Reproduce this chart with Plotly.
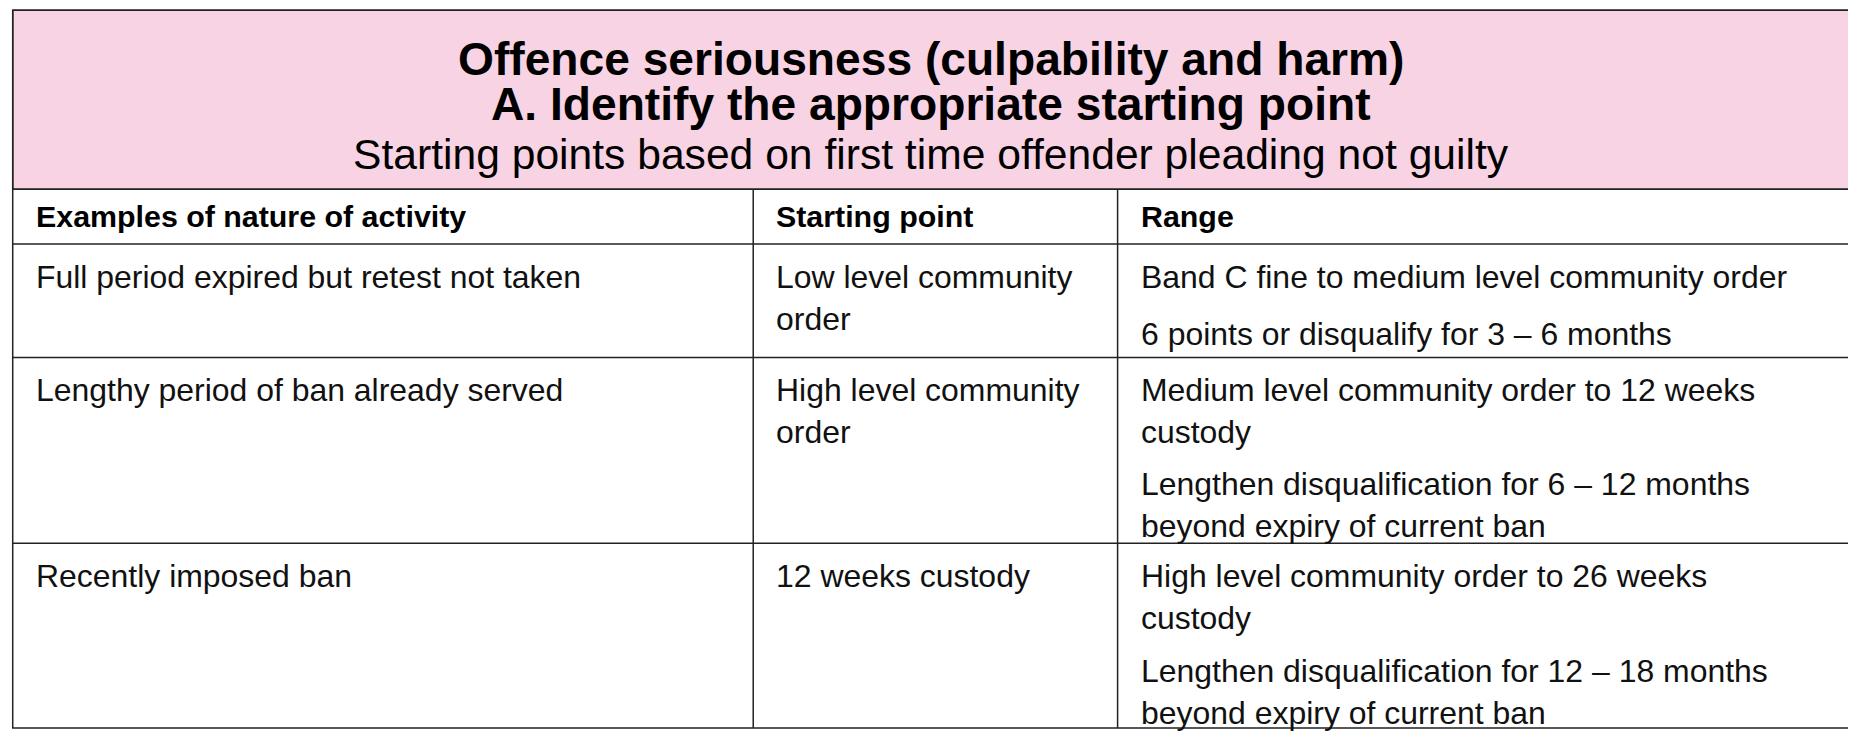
import plotly.graph_objects as go

# table content
title_lines = ["Offence seriousness (culpability and harm)", "A. Identify the appropriate starting point"]
subtitle = "Starting points based on first time offender pleading not guilty"
col_headers = ["Examples of nature of activity", "Starting point", "Range"]
activities = [
    "Full period expired but retest not taken",
    "Lengthy period of ban already served",
    "Recently imposed ban",
]
starting_points = [
    "Low level community<br>order",
    "High level community<br>order",
    "12 weeks custody",
]
range_first = [
    "Band C fine to medium level community order",
    "Medium level community order to 12 weeks<br>custody",
    "High level community order to 26 weeks<br>custody",
]
range_second = [
    "6 points or disqualify for 3 – 6 months",
    "Lengthen disqualification for 6 – 12 months<br>beyond expiry of current ban",
    "Lengthen disqualification for 12 – 18 months<br>beyond expiry of current ban",
]

# geometry (in reference pixel units)
W, H = 1568, 622
COL_X = [4, 632, 941, 1562]
ROW_Y = [2, 155, 202, 299, 458, 616]
SECOND_PARA_Y = [262, 390, 550]
S = 1856 / W
FONT = "Liberation Sans, Arial, sans-serif"
BODY = 27 * S
LINE = "#222222"

fig = go.Figure()
shapes = [
    dict(type="rect", x0=COL_X[0], x1=COL_X[-1], y0=ROW_Y[0], y1=ROW_Y[1],
         fillcolor="#f8d3e3", line=dict(color=LINE, width=1.5)),
    dict(type="rect", x0=COL_X[0], x1=COL_X[-1], y0=ROW_Y[0], y1=ROW_Y[-1],
         fillcolor="rgba(0,0,0,0)", line=dict(color=LINE, width=1.5)),
]
for y in ROW_Y[1:-1]:
    shapes.append(dict(type="line", x0=COL_X[0], x1=COL_X[-1], y0=y, y1=y,
                       line=dict(color=LINE, width=1.5)))
for x in COL_X[1:-1]:
    shapes.append(dict(type="line", x0=x, x1=x, y0=ROW_Y[1], y1=ROW_Y[-1],
                       line=dict(color=LINE, width=1.5)))

ann = []
for i, t in enumerate(title_lines):
    ann.append(dict(x=(COL_X[0] + COL_X[-1]) / 2, y=44 + 38 * i, text=f"<b>{t}</b>",
                    font=dict(size=39 * S, color="black", family=FONT)))
ann.append(dict(x=(COL_X[0] + COL_X[-1]) / 2, y=125, text=subtitle,
                font=dict(size=36 * S, color="black", family=FONT)))
for j, h in enumerate(col_headers):
    ann.append(dict(x=COL_X[j] + 18, y=(ROW_Y[1] + ROW_Y[2]) / 2, text=f"<b>{h}</b>",
                    xanchor="left", font=dict(size=BODY * 0.95, color="black", family=FONT)))
for i in range(len(activities)):
    top = ROW_Y[i + 2] + 11
    for j, txt in enumerate([activities[i], starting_points[i], range_first[i]]):
        ann.append(dict(x=COL_X[j] + 18, y=top, text=txt, xanchor="left", yanchor="top",
                        align="left", font=dict(size=BODY, color="#111111", family=FONT)))
    ann.append(dict(x=COL_X[2] + 18, y=SECOND_PARA_Y[i], text=range_second[i], xanchor="left",
                    yanchor="top", align="left", font=dict(size=BODY, color="#111111", family=FONT)))
for a in ann:
    a.update(xref="x", yref="y", showarrow=False)

fig.update_layout(
    width=1856, height=734, margin=dict(l=0, r=0, t=0, b=0),
    paper_bgcolor="white", plot_bgcolor="white", showlegend=False,
    shapes=shapes, annotations=ann,
    xaxis=dict(range=[0, W + 6], visible=False, fixedrange=True),
    yaxis=dict(range=[H + 6, 0], visible=False, fixedrange=True),
)
fig.write_html("out.html")
